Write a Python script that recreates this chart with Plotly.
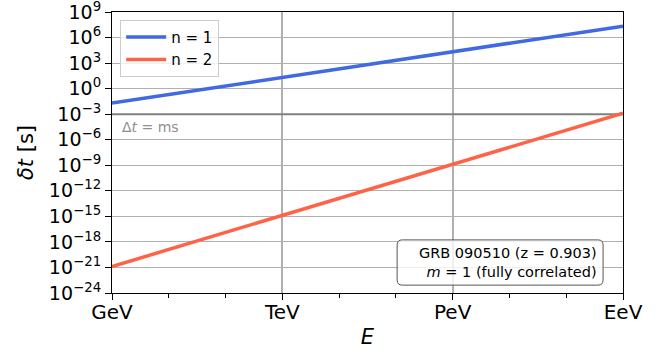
import plotly.graph_objects as go

# Data (energy in GeV, delay in seconds)
energy_gev = [1e0, 1e3, 1e6, 1e9]
dt_n1 = [2.0e-2, 2.0e1, 2.0e4, 2.2e7]
dt_n2 = [1.3e-21, 1.3e-15, 1.3e-9, 1.3e-3]
x_tickvals = [1e0, 1e3, 1e6, 1e9]
x_ticktext = ["GeV", "TeV", "PeV", "EeV"]
y_exps = list(range(-24, 10, 3))
ms_level = [1e-3, 1e-3]
ms_span = [1e0, 1e9]

FONT = "DejaVu Sans"

fig = go.Figure()
# ms reference line
fig.add_trace(go.Scatter(x=ms_span, y=ms_level, mode="lines", showlegend=False,
                         hoverinfo="skip", line=dict(color="#808080", width=2)))
fig.add_trace(go.Scatter(x=energy_gev, y=dt_n1, mode="lines", name="n = 1",
                         line=dict(color="#4169e1", width=3.5)))
fig.add_trace(go.Scatter(x=energy_gev, y=dt_n2, mode="lines", name="n = 2",
                         line=dict(color="#ff6347", width=3.5)))

fig.add_annotation(x=0.015, xref="paper", y=-3.35, yref="y", text="Δ<i>t</i> = ms",
                   showarrow=False, xanchor="left", yanchor="top",
                   font=dict(family=FONT, size=14, color="#909090"))

# annotation box (rounded)
x0, x1, y0, y1 = 0.558, 0.961, 0.028, 0.189
rx, ry = 0.010, 0.018
path = (f"M {x0+rx},{y0} L {x1-rx},{y0} Q {x1},{y0} {x1},{y0+ry} "
        f"L {x1},{y1-ry} Q {x1},{y1} {x1-rx},{y1} L {x0+rx},{y1} "
        f"Q {x0},{y1} {x0},{y1-ry} L {x0},{y0+ry} Q {x0},{y0} {x0+rx},{y0} Z")
fig.add_shape(type="path", xref="paper", yref="paper", path=path,
              line=dict(color="#555555", width=1), fillcolor="rgba(255,255,255,0.8)", layer="above")
fig.add_annotation(x=0.953, xref="paper", y=0.108, yref="paper",
                   text="GRB 090510 (z = 0.903)<br><i>m</i> = 1 (fully correlated)",
                   showarrow=False, xanchor="right", yanchor="middle", align="right",
                   font=dict(family=FONT, size=14.5, color="black"))

ytext = [f"10<sup>{str(e).replace('-', '−')}</sup>" for e in y_exps]

fig.update_layout(
    width=668, height=355,
    margin=dict(l=112, r=45, t=12, b=62, autoexpand=False),
    paper_bgcolor="white", plot_bgcolor="white",
    font=dict(family=FONT, size=17, color="black"),
    showlegend=True,
    legend=dict(x=0.016, y=0.972, xanchor="left", yanchor="top",
                bgcolor="rgba(255,255,255,0.8)", bordercolor="#cccccc", borderwidth=1,
                font=dict(family=FONT, size=15), itemwidth=40, tracegroupgap=4),
    xaxis=dict(type="log", range=[0, 9], tickvals=x_tickvals, ticktext=x_ticktext,
               showgrid=True, gridcolor="#b0b0b0", gridwidth=1.6,
               ticks="outside", ticklen=6, tickcolor="black", tickwidth=1,
               showline=True, linecolor="black", linewidth=1.2, mirror=True,
               zeroline=False, automargin=False, ticklabeloverflow="allow",
               minor=dict(tickvals=[10**k for k in range(0, 10)], ticks="outside",
                          ticklen=4, tickcolor="black", showgrid=False),
               title=dict(text="<i>E</i>", font=dict(size=21), standoff=6),
               tickfont=dict(size=20)),
    yaxis=dict(type="log", range=[-24.0005, 9.0005],
               tickvals=[10.0**e for e in y_exps],
               ticktext=ytext,
               showgrid=True, gridcolor="#b0b0b0", gridwidth=1.3,
               ticks="outside", ticklen=6, tickcolor="black", tickwidth=1,
               showline=True, linecolor="black", linewidth=1.2, mirror=True,
               zeroline=False, automargin=False, ticklabeloverflow="allow",
               title=dict(text="<i>δt</i> [s]", font=dict(size=21), standoff=9),
               tickfont=dict(size=19)),
)

try:
    fig.update_xaxes(ticklabelstandoff=-5)
except Exception:
    pass

fig.write_html("out.html")
